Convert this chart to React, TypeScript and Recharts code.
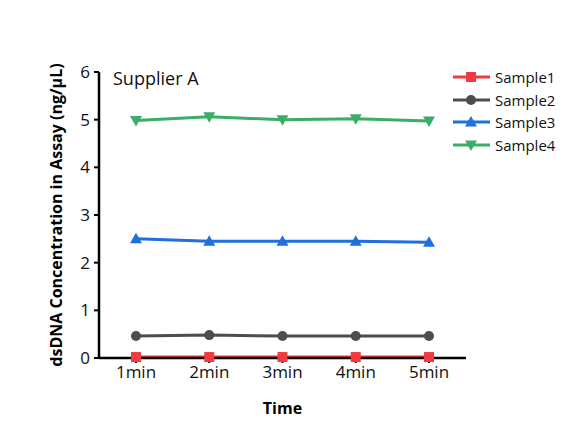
import React from 'react';
import { LineChart, Line, XAxis, YAxis, Legend, Label } from 'recharts';

const times = ['1min', '2min', '3min', '4min', '5min'];
const sample1 = [0.02, 0.02, 0.02, 0.02, 0.02];
const sample2 = [0.46, 0.48, 0.46, 0.46, 0.46];
const sample3 = [2.5, 2.45, 2.45, 2.45, 2.43];
const sample4 = [4.98, 5.06, 5.0, 5.02, 4.97];
const yTicks = [0, 1, 2, 3, 4, 5, 6];

const data = times.map((t, i) => ({
  time: t,
  Sample1: sample1[i],
  Sample2: sample2[i],
  Sample3: sample3[i],
  Sample4: sample4[i],
}));

const FONT = '"Open Sans", "Noto Sans", sans-serif';

const series = [
  { key: 'Sample1', color: '#ef3b41', shape: 'square' },
  { key: 'Sample2', color: '#4d4d4d', shape: 'circle' },
  { key: 'Sample3', color: '#1f6fdd', shape: 'up' },
  { key: 'Sample4', color: '#3aae68', shape: 'down' },
];

const Marker = ({ cx, cy, shape, color }: any) => {
  if (cx == null || cy == null) return null;
  if (shape === 'square') return <rect x={cx - 5} y={cy - 5} width={10} height={10} fill={color} />;
  if (shape === 'circle') return <circle cx={cx} cy={cy} r={5} fill={color} />;
  if (shape === 'up') return <path d={`M${cx},${cy - 6} L${cx + 6},${cy + 4.5} L${cx - 6},${cy + 4.5} Z`} fill={color} />;
  return <path d={`M${cx},${cy + 6} L${cx + 6},${cy - 4.5} L${cx - 6},${cy - 4.5} Z`} fill={color} />;
};

const LegendContent = () => (
  <div style={{ fontFamily: FONT, fontSize: 15, color: '#111' }}>
    {series.map((s) => (
      <div key={s.key} style={{ display: 'flex', alignItems: 'center', height: 22.6 }}>
        <svg width={42} height={14} style={{ marginRight: 1 }}>
          <line x1={1} y1={7} x2={38} y2={7} stroke={s.color} strokeWidth={3} />
          <Marker cx={19} cy={7} shape={s.shape} color={s.color} />
        </svg>
        <span>{s.key}</span>
      </div>
    ))}
  </div>
);

export default function App() {
  return (
    <div style={{ position: 'absolute', left: 0, top: 0, width: 566, height: 433, background: '#fff' }}>
      <LineChart
        width={566}
        height={433}
        data={data}
        margin={{ top: 72, right: 100, left: 0, bottom: 0 }}
        style={{ fontFamily: FONT }}
      >
        <XAxis
          dataKey="time"
          padding={{ left: 37, right: 37 }}
          height={75}
          axisLine={{ stroke: '#000', strokeWidth: 2.5 }}
          tickLine={{ stroke: '#000', strokeWidth: 2 }}
          tickSize={5}
          tick={{ fill: '#111', fontSize: 17 }}
          tickMargin={3}
        >
          <Label value="Time" position="insideBottom" offset={19} style={{ fontWeight: 'bold', fontSize: 16, fill: '#000' }} />
        </XAxis>
        <YAxis
          domain={[0, 6]}
          ticks={yTicks}
          width={99}
          axisLine={{ stroke: '#000', strokeWidth: 2.5 }}
          tickLine={{ stroke: '#000', strokeWidth: 2 }}
          tickSize={5}
          tick={{ fill: '#111', fontSize: 17 }}
          tickMargin={4}
        >
          <Label
            value="dsDNA Concentration in Assay (ng/μL)"
            angle={-90}
            position="insideLeft"
            offset={56}
            style={{ fontWeight: 'bold', fontSize: 16, fill: '#000', textAnchor: 'middle' }}
          />
        </YAxis>
        <Legend
          layout="vertical"
          align="center"
          verticalAlign="middle"
          content={<LegendContent />}
          wrapperStyle={{ left: 452, top: 66, width: 114 }}
        />
        {series.map((s) => (
          <Line
            key={s.key}
            dataKey={s.key}
            stroke={s.color}
            strokeWidth={3}
            isAnimationActive={false}
            dot={(p: any) => <Marker key={p.key ?? p.index} cx={p.cx} cy={p.cy} shape={s.shape} color={s.color} />}
            activeDot={false}
          />
        ))}
        <text x={113} y={85} fontSize={18} fill="#111" style={{ fontFamily: FONT }}>Supplier A</text>
      </LineChart>
    </div>
  );
}
